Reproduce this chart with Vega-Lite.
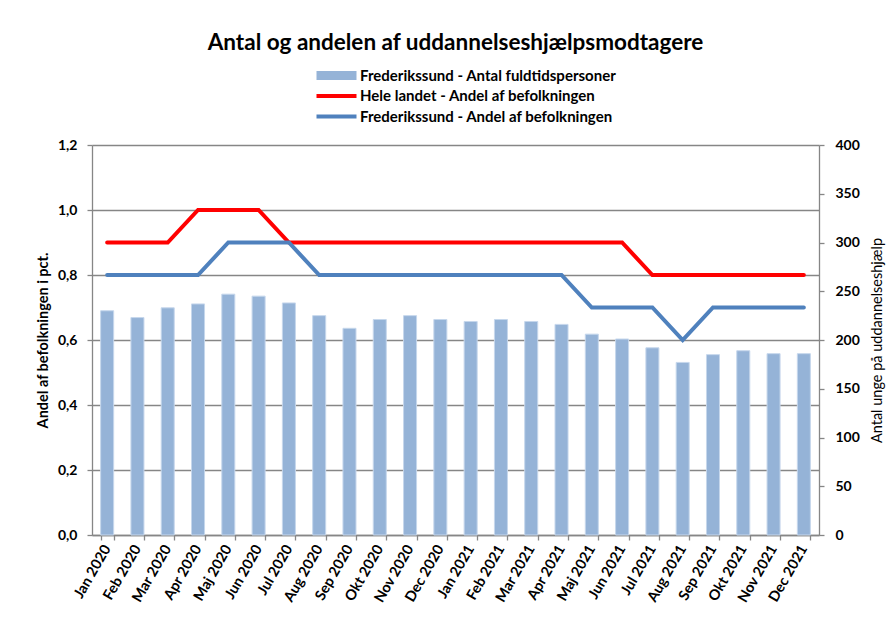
{
  "$schema": "https://vega.github.io/schema/vega-lite/v6.json",
  "width": 727,
  "height": 390,
  "autosize": {"type": "none"},
  "padding": {"left": 92, "top": 145, "right": 75, "bottom": 87},
  "background": "white",
  "config": {
    "font": "Lato",
    "view": {"stroke": null},
    "axis": {
      "domainColor": "#868686",
      "domainWidth": 1.3,
      "tickColor": "#868686",
      "tickWidth": 1.3,
      "tickSize": 5,
      "labelColor": "black",
      "labelFontWeight": "bold",
      "labelFontSize": 14,
      "titleColor": "black"
    },
    "legend": {
      "title": null,
      "orient": "none",
      "direction": "vertical",
      "legendX": 222,
      "legendY": -77,
      "symbolSize": 100,
      "symbolOffset": 15,
      "labelOffset": 16,
      "rowPadding": 3.5,
      "labelFontSize": 15,
      "labelFontWeight": "bold",
      "labelColor": "black",
      "labelLimit": 500
    }
  },
  "title": {
    "text": "Antal og andelen af uddannelseshjælpsmodtagere",
    "fontSize": 22.5,
    "fontWeight": "bold",
    "color": "black",
    "anchor": "middle",
    "offset": 14
  },
  "data": {
    "values": [
      {"month": "Jan 2020", "antal": 230, "Hele landet - Andel af befolkningen": 0.9, "Frederikssund - Andel af befolkningen": 0.8},
      {"month": "Feb 2020", "antal": 223, "Hele landet - Andel af befolkningen": 0.9, "Frederikssund - Andel af befolkningen": 0.8},
      {"month": "Mar 2020", "antal": 233, "Hele landet - Andel af befolkningen": 0.9, "Frederikssund - Andel af befolkningen": 0.8},
      {"month": "Apr 2020", "antal": 237, "Hele landet - Andel af befolkningen": 1.0, "Frederikssund - Andel af befolkningen": 0.8},
      {"month": "Maj 2020", "antal": 247, "Hele landet - Andel af befolkningen": 1.0, "Frederikssund - Andel af befolkningen": 0.9},
      {"month": "Jun 2020", "antal": 245, "Hele landet - Andel af befolkningen": 1.0, "Frederikssund - Andel af befolkningen": 0.9},
      {"month": "Jul 2020", "antal": 238, "Hele landet - Andel af befolkningen": 0.9, "Frederikssund - Andel af befolkningen": 0.9},
      {"month": "Aug 2020", "antal": 225, "Hele landet - Andel af befolkningen": 0.9, "Frederikssund - Andel af befolkningen": 0.8},
      {"month": "Sep 2020", "antal": 212, "Hele landet - Andel af befolkningen": 0.9, "Frederikssund - Andel af befolkningen": 0.8},
      {"month": "Okt 2020", "antal": 221, "Hele landet - Andel af befolkningen": 0.9, "Frederikssund - Andel af befolkningen": 0.8},
      {"month": "Nov 2020", "antal": 225, "Hele landet - Andel af befolkningen": 0.9, "Frederikssund - Andel af befolkningen": 0.8},
      {"month": "Dec 2020", "antal": 221, "Hele landet - Andel af befolkningen": 0.9, "Frederikssund - Andel af befolkningen": 0.8},
      {"month": "Jan 2021", "antal": 219, "Hele landet - Andel af befolkningen": 0.9, "Frederikssund - Andel af befolkningen": 0.8},
      {"month": "Feb 2021", "antal": 221, "Hele landet - Andel af befolkningen": 0.9, "Frederikssund - Andel af befolkningen": 0.8},
      {"month": "Mar 2021", "antal": 219, "Hele landet - Andel af befolkningen": 0.9, "Frederikssund - Andel af befolkningen": 0.8},
      {"month": "Apr 2021", "antal": 216, "Hele landet - Andel af befolkningen": 0.9, "Frederikssund - Andel af befolkningen": 0.8},
      {"month": "Maj 2021", "antal": 206, "Hele landet - Andel af befolkningen": 0.9, "Frederikssund - Andel af befolkningen": 0.7},
      {"month": "Jun 2021", "antal": 201, "Hele landet - Andel af befolkningen": 0.9, "Frederikssund - Andel af befolkningen": 0.7},
      {"month": "Jul 2021", "antal": 192, "Hele landet - Andel af befolkningen": 0.8, "Frederikssund - Andel af befolkningen": 0.7},
      {"month": "Aug 2021", "antal": 177, "Hele landet - Andel af befolkningen": 0.8, "Frederikssund - Andel af befolkningen": 0.6},
      {"month": "Sep 2021", "antal": 185, "Hele landet - Andel af befolkningen": 0.8, "Frederikssund - Andel af befolkningen": 0.7},
      {"month": "Okt 2021", "antal": 189, "Hele landet - Andel af befolkningen": 0.8, "Frederikssund - Andel af befolkningen": 0.7},
      {"month": "Nov 2021", "antal": 186, "Hele landet - Andel af befolkningen": 0.8, "Frederikssund - Andel af befolkningen": 0.7},
      {"month": "Dec 2021", "antal": 186, "Hele landet - Andel af befolkningen": 0.8, "Frederikssund - Andel af befolkningen": 0.7}
    ]
  },
  "layer": [
    {
      "mark": {"type": "bar", "stroke": "#C6D7EC", "strokeWidth": 1},
      "encoding": {
        "x": {
          "field": "month",
          "type": "ordinal",
          "sort": null,
          "scale": {"paddingInner": 0.57, "paddingOuter": 0.285},
          "axis": {
            "title": null,
            "labelAngle": -60,
            "labelAlign": "right",
            "labelBaseline": "middle",
            "labelFontSize": 14.5,
            "labelPadding": 6,
            "tickBand": "extent",
            "grid": false
          }
        },
        "y": {
          "field": "antal",
          "type": "quantitative",
          "scale": {"domain": [0, 400]},
          "axis": {
            "orient": "right",
            "values": [0, 50, 100, 150, 200, 250, 300, 350, 400],
            "grid": false,
            "labelPadding": 11,
            "title": "Antal unge på uddannelseshjælp",
            "titleAngle": -90,
            "titleFontSize": 14.5,
            "titleFontWeight": "normal",
            "titlePadding": 25
          }
        },
        "color": {
          "datum": "Frederikssund - Antal fuldtidspersoner",
          "type": "nominal",
          "scale": {
            "domain": ["Frederikssund - Antal fuldtidspersoner", "Hele landet - Andel af befolkningen", "Frederikssund - Andel af befolkningen"],
            "range": ["#95B3D7", "#FF0000", "#4F81BD"]
          },
          "legend": {
            "title": null,
            "encode": {
              "symbols": {
                "update": {
                  "shape": {"signal": "datum.value === 'Frederikssund - Antal fuldtidspersoner' ? 'M-4,-0.9H4V0.9H-4Z' : 'M-4,0H4'"},
                  "fill": {"signal": "datum.value === 'Frederikssund - Antal fuldtidspersoner' ? '#95B3D7' : 'transparent'"},
                  "stroke": {"signal": "datum.value === 'Frederikssund - Antal fuldtidspersoner' ? '#95B3D7' : (datum.value === 'Hele landet - Andel af befolkningen' ? '#FF0000' : '#4F81BD')"},
                  "strokeWidth": {"signal": "datum.value === 'Frederikssund - Antal fuldtidspersoner' ? 0 : 4"},
                  "opacity": {"value": 1}
                }
              }
            }
          }
        }
      }
    },
    {
      "transform": [
        {"fold": ["Hele landet - Andel af befolkningen", "Frederikssund - Andel af befolkningen"], "as": ["serie", "andel"]}
      ],
      "mark": {"type": "line", "strokeWidth": 4, "strokeCap": "round"},
      "encoding": {
        "x": {"field": "month", "type": "ordinal", "sort": null},
        "y": {
          "field": "andel",
          "type": "quantitative",
          "scale": {"domain": [0, 1.2]},
          "axis": {
            "orient": "left",
            "values": [0, 0.2, 0.4, 0.6, 0.8, 1.0, 1.2],
            "labelExpr": "replace(format(datum.value, '.1f'), '.', ',')",
            "grid": true,
            "gridColor": "#868686",
            "gridWidth": 1.3,
            "labelPadding": 10,
            "title": "Andel af befolkningen i pct.",
            "titleFontSize": 14.5,
            "titleFontWeight": "bold",
            "titlePadding": 7
          }
        },
        "color": {
          "field": "serie",
          "type": "nominal",
          "legend": {
            "title": null,
            "encode": {
              "symbols": {
                "update": {
                  "shape": {"signal": "datum.value === 'Frederikssund - Antal fuldtidspersoner' ? 'M-4,-0.9H4V0.9H-4Z' : 'M-4,0H4'"},
                  "fill": {"signal": "datum.value === 'Frederikssund - Antal fuldtidspersoner' ? '#95B3D7' : 'transparent'"},
                  "stroke": {"signal": "datum.value === 'Frederikssund - Antal fuldtidspersoner' ? '#95B3D7' : (datum.value === 'Hele landet - Andel af befolkningen' ? '#FF0000' : '#4F81BD')"},
                  "strokeWidth": {"signal": "datum.value === 'Frederikssund - Antal fuldtidspersoner' ? 0 : 4"},
                  "opacity": {"value": 1}
                }
              }
            }
          }
        }
      }
    }
  ],
  "resolve": {"scale": {"y": "independent"}}
}
